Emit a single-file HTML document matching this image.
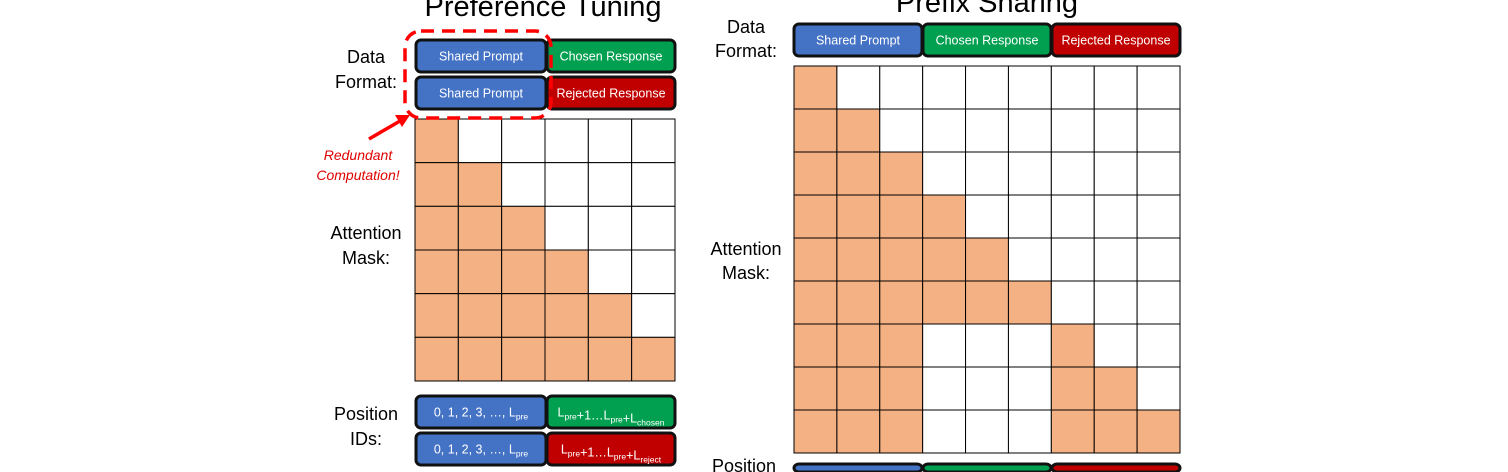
<!DOCTYPE html>
<html><head><meta charset="utf-8">
<style>
html,body{margin:0;padding:0;background:#fff;width:1508px;height:472px;overflow:hidden;}
svg{display:block;overflow:hidden;font-family:"Liberation Sans","DejaVu Sans",sans-serif;}
</style></head>
<body>
<svg id="fig" width="1508" height="472" viewBox="0 0 1508 472">
  <text x="543" y="16" font-size="29" text-anchor="middle" fill="#000">Preference Tuning</text>
  <text x="987" y="12" font-size="29" text-anchor="middle" fill="#000">Prefix Sharing</text>

  <g font-size="18" fill="#000" text-anchor="middle">
    <text x="366" y="63">Data</text>
    <text x="366" y="88">Format:</text>
    <text x="366" y="239">Attention</text>
    <text x="366" y="264">Mask:</text>
    <text x="366" y="420">Position</text>
    <text x="366" y="445">IDs:</text>
    <text x="746" y="33">Data</text>
    <text x="746" y="57">Format:</text>
    <text x="746" y="255">Attention</text>
    <text x="746" y="279">Mask:</text>
    <text x="744" y="472">Position</text>
  </g>

  <g id="boxes" font-size="12.5" fill="#fff" text-anchor="middle"></g>
  <g id="leftgrid"></g>
  <g id="rightgrid"></g>

  <rect x="405" y="31" width="146" height="87" rx="16" ry="16" fill="none" stroke="#ff0000" stroke-width="3.5" stroke-dasharray="13,8"/>
  <line x1="369" y1="139" x2="400" y2="121" stroke="#ff0000" stroke-width="3.5"/>
  <polygon points="410,115 395,115 402,127" fill="#ff0000"/>
  <text x="358" y="160" font-size="14" font-style="italic" fill="#e00000" text-anchor="middle">Redundant</text>
  <text x="358" y="180" font-size="14" font-style="italic" fill="#e00000" text-anchor="middle">Computation!</text>
</svg>
<script>
// Attention masks (1 = attended)
const leftMask = [
  [1,0,0,0,0,0],
  [1,1,0,0,0,0],
  [1,1,1,0,0,0],
  [1,1,1,1,0,0],
  [1,1,1,1,1,0],
  [1,1,1,1,1,1]
];
const rightMask = [
  [1,0,0,0,0,0,0,0,0],
  [1,1,0,0,0,0,0,0,0],
  [1,1,1,0,0,0,0,0,0],
  [1,1,1,1,0,0,0,0,0],
  [1,1,1,1,1,0,0,0,0],
  [1,1,1,1,1,1,0,0,0],
  [1,1,1,0,0,0,1,0,0],
  [1,1,1,0,0,0,1,1,0],
  [1,1,1,0,0,0,1,1,1]
];
const NS = "http://www.w3.org/2000/svg";
function drawGrid(id, mask, x0, y0, x1, y1, label){
  const g = document.getElementById(id);
  const n = mask.length, m = mask[0].length;
  const cw = (x1-x0)/m, ch = (y1-y0)/n;
  mask.forEach((row,i)=>row.forEach((v,j)=>{
    const r = document.createElementNS(NS,"rect");
    r.setAttribute("x", x0+j*cw); r.setAttribute("y", y0+i*ch);
    r.setAttribute("width", cw); r.setAttribute("height", ch);
    r.setAttribute("fill", v ? "#f4b183" : "#ffffff");
    r.setAttribute("stroke", "#000"); r.setAttribute("stroke-width", "1");
    
    
    g.appendChild(r);
  }));
}
drawGrid("leftgrid", leftMask, 415, 119, 675, 381, "left-mask");
drawGrid("rightgrid", rightMask, 794, 66, 1180, 453, "right-mask");

const BLUE="#4472c4", GREEN="#00a050", RED="#c00000";
const boxG = document.getElementById("boxes");
function box(x,y,w,h,color,html,name){
  const r = document.createElementNS(NS,"rect");
  r.setAttribute("x",x); r.setAttribute("y",y); r.setAttribute("width",w); r.setAttribute("height",h);
  r.setAttribute("rx",5); r.setAttribute("fill",color); r.setAttribute("stroke","#111"); r.setAttribute("stroke-width","3");
  
  
  boxG.appendChild(r);
  if(html){
    const t = document.createElementNS(NS,"text");
    t.setAttribute("x", x+w/2); t.setAttribute("y", y+h/2+4.5);
    t.innerHTML = html;
    
    
    boxG.appendChild(t);
  }
}
const sub = s => '<tspan font-size="8.5" dy="3">'+s+'</tspan><tspan dy="-3"></tspan>';
box(416,40,130,32,BLUE,"Shared Prompt","left-shared-prompt-1");
box(547,40,128,32,GREEN,"Chosen Response","left-chosen-response");
box(416,77,130,32,BLUE,"Shared Prompt","left-shared-prompt-2");
box(547,77,128,32,RED,"Rejected Response","left-rejected-response");
box(416,396,130,32,BLUE,"0, 1, 2, 3, …, L"+sub("pre"),"left-position-prompt-1");
box(547,396,128,32,GREEN,"L"+sub("pre")+"+1…L"+sub("pre")+"+L"+sub("chosen"),"left-position-chosen");
box(416,433,130,32,BLUE,"0, 1, 2, 3, …, L"+sub("pre"),"left-position-prompt-2");
box(547,433,128,32,RED,"L"+sub("pre")+"+1…L"+sub("pre")+"+L"+sub("reject"),"left-position-rejected");
box(794,24,128,32,BLUE,"Shared Prompt","right-shared-prompt");
box(923,24,128,32,GREEN,"Chosen Response","right-chosen-response");
box(1052,24,128,32,RED,"Rejected Response","right-rejected-response");
box(794,464,128,8,BLUE,"","right-position-prompt");
box(923,464,128,8,GREEN,"","right-position-chosen");
box(1052,464,128,8,RED,"","right-position-rejected");
</script>
</body></html>
